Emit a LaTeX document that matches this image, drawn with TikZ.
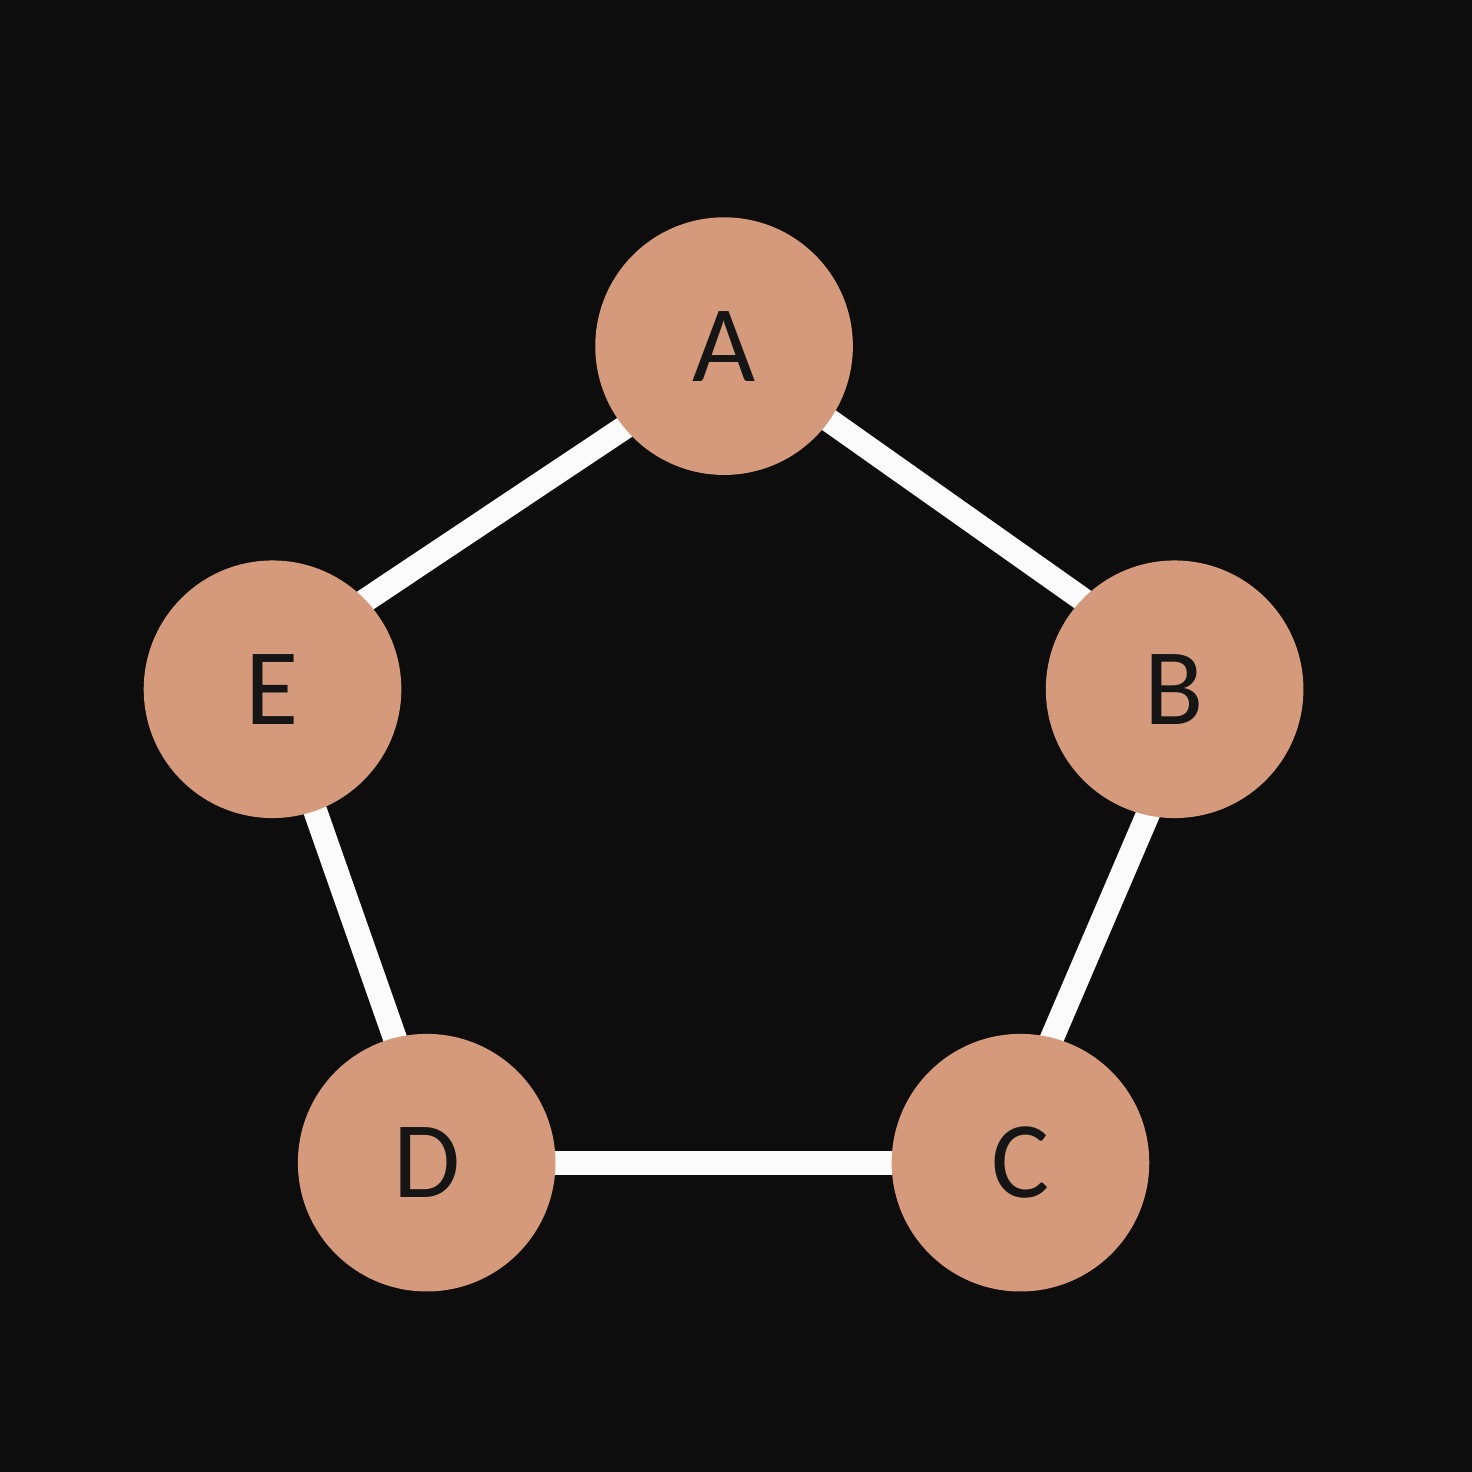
\documentclass[tikz,border=0pt]{standalone}
\usepackage{fontspec}
\setmainfont{Carlito}
\definecolor{bgc}{HTML}{0D0D0D}
\definecolor{nodefill}{HTML}{D49A7B}
\definecolor{txt}{HTML}{151515}
\definecolor{edgec}{HTML}{FBFBFB}
\pgfdeclarelayer{bglayer}
\pgfdeclarelayer{edgelayer}
\pgfsetlayers{bglayer,edgelayer,main}
\tikzset{
  vtx/.style={circle, fill=nodefill, draw=none, minimum size=259bp, inner sep=0pt,
    text=txt, font=\fontsize{110}{110}\selectfont},
  edg/.style={draw=edgec, line width=24bp}
}
\begin{document}
\begin{tikzpicture}[x=1bp,y=-1bp]
\begin{pgfonlayer}{bglayer}
\fill[bgc] (-4,-4) rectangle (1476,1476);
\end{pgfonlayer}
\useasboundingbox (0,0) rectangle (1468.8,1472);
\node[vtx] (A) at (724,344) {A};
\node[vtx] (B) at (1177,689) {B};
\node[vtx] (C) at (1022,1165) {C};
\node[vtx] (D) at (425,1165) {D};
\node[vtx] (E) at (270,689) {E};
\begin{pgfonlayer}{edgelayer}
\draw[edg] (A.center) -- ([yshift=25bp]B.center);
\draw[edg] ([xshift=27bp]B.center) -- ([xshift=-22bp]C.center);
\draw[edg] (C.center) -- (D.center);
\draw[edg] ([xshift=12bp]D.center) -- (E.center);
\draw[edg] ([yshift=27bp]E.center) -- ([yshift=-15bp]A.center);
\end{pgfonlayer}
\end{tikzpicture}
\end{document}
